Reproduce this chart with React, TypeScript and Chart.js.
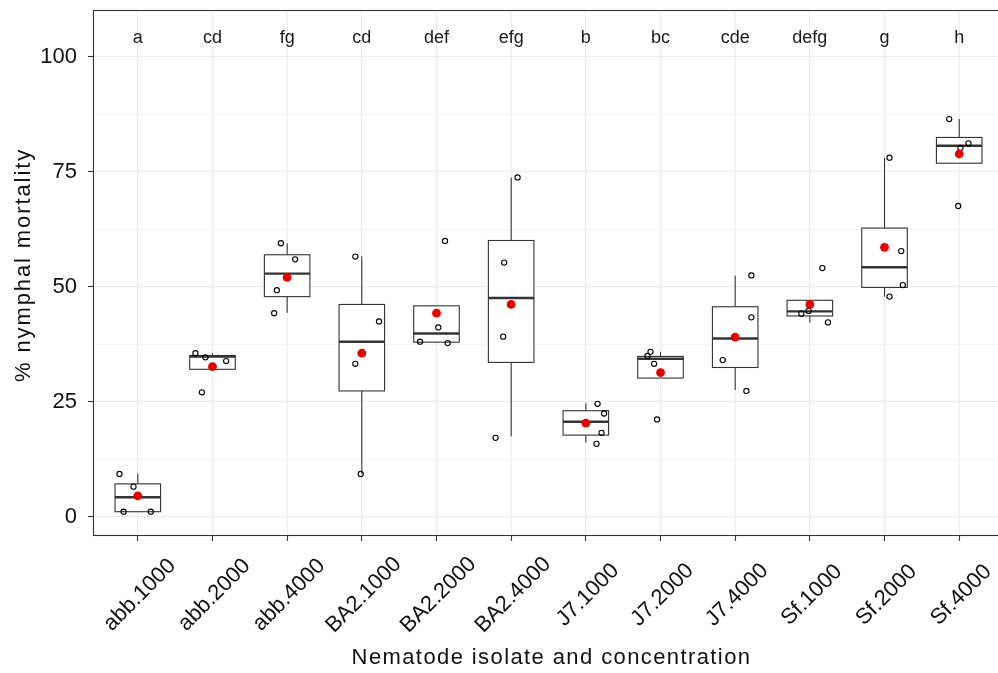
import React, { useEffect, useRef } from 'react';
import { Chart, registerables } from 'chart.js';

Chart.register(...registerables);

// ---------- data ----------
const categories = [
  'abb.1000', 'abb.2000', 'abb.4000',
  'BA2.1000', 'BA2.2000', 'BA2.4000',
  'J7.1000', 'J7.2000', 'J7.4000',
  'Sf.1000', 'Sf.2000', 'Sf.4000',
];
const groupLetters = ['a', 'cd', 'fg', 'cd', 'def', 'efg', 'b', 'bc', 'cde', 'defg', 'g', 'h'];

const whiskerLow = [1.15, 32.1, 44.4, 9.35, 37.8, 17.5, 16.2, 30.2, 27.6, 42.3, 47.9, 76.9];
const boxQ1 = [1.15, 32.1, 47.9, 27.4, 38.0, 33.6, 17.8, 30.2, 32.5, 43.7, 49.9, 76.9];
const boxMedian = [4.3, 34.85, 52.9, 38.1, 39.9, 47.6, 20.7, 34.4, 38.8, 44.7, 54.3, 80.7];
const boxQ3 = [7.2, 35.1, 57.0, 46.2, 45.9, 60.1, 23.1, 34.9, 45.7, 47.1, 62.8, 82.5];
const whiskerHigh = [9.4, 35.6, 59.5, 56.6, 45.9, 73.8, 24.7, 35.9, 52.5, 47.1, 78.1, 86.5];
const groupMeans = [4.6, 32.7, 52.1, 35.6, 44.3, 46.2, 20.4, 31.4, 39.1, 46.2, 58.6, 78.9];

const pointValues = [
  [9.35, 6.6, 1.15, 1.15],
  [35.6, 34.7, 33.9, 27.1],
  [59.5, 56.0, 49.3, 44.3],
  [56.6, 42.5, 33.3, 9.35],
  [60.0, 41.2, 38.1, 37.8],
  [73.8, 55.3, 39.2, 17.2],
  [24.6, 22.5, 18.3, 15.9],
  [35.9, 35.0, 33.3, 21.2],
  [52.5, 43.4, 34.1, 27.4],
  [54.1, 42.3, 44.8, 44.2],
  [78.1, 57.8, 50.4, 47.9],
  [86.5, 81.2, 67.6, 80.2],
];
// horizontal jitter of each point, in category units
const pointJitter = [
  [-0.245, -0.058, -0.19, 0.174],
  [-0.228, -0.094, 0.183, -0.142],
  [-0.084, 0.107, -0.138, -0.174],
  [-0.087, 0.23, -0.087, -0.015],
  [0.114, 0.024, -0.22, 0.15],
  [0.086, -0.094, -0.107, -0.209],
  [0.157, 0.245, 0.21, 0.143],
  [-0.134, -0.174, -0.086, -0.046],
  [0.217, 0.217, -0.167, 0.15],
  [0.167, 0.242, -0.016, -0.114],
  [0.067, 0.224, 0.245, 0.067],
  [-0.134, 0.124, -0.013, 0.017],
];

const yMajorTicks = [0, 25, 50, 75, 100];
const yMinorTicks = [12.5, 37.5, 62.5, 87.5];
const letterValue = 103;

const xTitle = 'Nematode isolate and concentration';
const yTitle = '% nymphal mortality';

// ---------- style ----------
const FONT = "'Liberation Sans', Arial, sans-serif";
const DARK = '#333333';
const BOX_HALF = 0.305;

const line = (ctx: CanvasRenderingContext2D, x1: number, y1: number, x2: number, y2: number) => {
  ctx.beginPath();
  ctx.moveTo(x1, y1);
  ctx.lineTo(x2, y2);
  ctx.stroke();
};

const boxPlugin = {
  id: 'boxplots',
  beforeDatasetsDraw(chart: any) {
    const { ctx, chartArea } = chart;
    const xs = chart.scales.x;
    const ys = chart.scales.y;
    ctx.save();
    ctx.beginPath();
    ctx.rect(chartArea.left, chartArea.top, chartArea.right - chartArea.left, chartArea.bottom - chartArea.top);
    ctx.clip();
    categories.forEach((_, i) => {
      const cx = xs.getPixelForValue(i);
      const l = xs.getPixelForValue(i - BOX_HALF);
      const r = xs.getPixelForValue(i + BOX_HALF);
      const pLo = ys.getPixelForValue(whiskerLow[i]);
      const pQ1 = ys.getPixelForValue(boxQ1[i]);
      const pMed = ys.getPixelForValue(boxMedian[i]);
      const pQ3 = ys.getPixelForValue(boxQ3[i]);
      const pHi = ys.getPixelForValue(whiskerHigh[i]);
      ctx.strokeStyle = DARK;
      ctx.lineWidth = 1.1;
      if (pHi < pQ3) line(ctx, cx, pHi, cx, pQ3);
      if (pLo > pQ1) line(ctx, cx, pQ1, cx, pLo);
      ctx.fillStyle = '#ffffff';
      ctx.fillRect(l, pQ3, r - l, pQ1 - pQ3);
      ctx.strokeRect(l, pQ3, r - l, pQ1 - pQ3);
      ctx.lineWidth = 2.4;
      line(ctx, l, pMed, r, pMed);
    });
    ctx.fillStyle = '#1a1a1a';
    ctx.font = `18px ${FONT}`;
    ctx.textAlign = 'center';
    ctx.textBaseline = 'alphabetic';
    groupLetters.forEach((t, i) => {
      ctx.fillText(t, xs.getPixelForValue(i), ys.getPixelForValue(letterValue));
    });
    ctx.restore();
  },
  afterDraw(chart: any) {
    const { ctx, chartArea } = chart;
    const xs = chart.scales.x;
    ctx.save();
    ctx.strokeStyle = DARK;
    ctx.lineWidth = 1.1;
    ctx.strokeRect(chartArea.left + 0.5, chartArea.top + 0.5, chartArea.right - chartArea.left - 1, chartArea.bottom - chartArea.top - 1);
    // rotated category labels
    ctx.fillStyle = '#111111';
    ctx.font = `22px ${FONT}`;
    ctx.textAlign = 'center';
    ctx.textBaseline = 'middle';
    categories.forEach((t, i) => {
      ctx.save();
      ctx.translate(xs.getPixelForValue(i) + 2, 595);
      ctx.rotate(-Math.PI / 4);
      ctx.fillText(t, 0, 0);
      ctx.restore();
    });
    // axis titles
    (ctx as any).letterSpacing = '1.4px';
    ctx.fillText(xTitle, (chartArea.left + chartArea.right) / 2 + 3, 658);
    (ctx as any).letterSpacing = '1.9px';
    ctx.save();
    ctx.translate(24, (chartArea.top + chartArea.bottom) / 2 - 8);
    ctx.rotate(-Math.PI / 2);
    ctx.fillText(yTitle, 0, 0);
    ctx.restore();
    ctx.restore();
  },
};

export default function App() {
  const ref = useRef<HTMLCanvasElement | null>(null);
  useEffect(() => {
    if (!ref.current) return;
    const jitterData: { x: number; y: number }[] = [];
    pointValues.forEach((vals, i) => {
      vals.forEach((v, j) => jitterData.push({ x: i + pointJitter[i][j], y: v }));
    });
    const meanData = groupMeans.map((m, i) => ({ x: i, y: m }));
    const yTicks = [...yMajorTicks, ...yMinorTicks].sort((a, b) => a - b);

    const chart = new Chart(ref.current, {
      type: 'scatter',
      data: {
        datasets: [
          {
            label: 'mean',
            data: meanData,
            pointRadius: 4.4,
            pointBackgroundColor: '#e60000',
            pointBorderColor: '#e60000',
            pointBorderWidth: 0,
          },
          {
            label: 'observations',
            data: jitterData,
            pointRadius: 2.6,
            pointBackgroundColor: 'rgba(0,0,0,0)',
            pointBorderColor: '#000000',
            pointBorderWidth: 1.1,
          },
        ],
      },
      options: {
        animation: false,
        responsive: false,
        devicePixelRatio: 1,
        events: [],
        layout: { padding: { top: 10, right: 6, left: 0, bottom: 0 } },
        plugins: { legend: { display: false }, tooltip: { enabled: false } },
        scales: {
          x: {
            type: 'linear',
            min: -0.6,
            max: 11.6,
            afterBuildTicks: (s: any) => {
              s.ticks = categories.map((_, i) => ({ value: i }));
            },
            afterFit: (s: any) => {
              s.height = 137;
              s.paddingLeft = 0;
              s.paddingRight = 0;
            },
            ticks: { display: false },
            border: { display: false },
            grid: {
              color: '#EBEBEB',
              lineWidth: 1,
              drawTicks: true,
              tickLength: 5,
              tickColor: DARK,
              tickWidth: 1.1,
            },
          },
          y: {
            type: 'linear',
            min: -4.13,
            max: 110.2,
            afterBuildTicks: (s: any) => {
              s.ticks = yTicks.map((v) => ({ value: v }));
            },
            afterFit: (s: any) => {
              s.width = 93;
              s.paddingTop = 0;
              s.paddingBottom = 0;
            },
            border: { display: false },
            grid: {
              color: (c: any) => (yMajorTicks.includes(c.tick?.value) ? '#EBEBEB' : '#F3F3F3'),
              lineWidth: 1,
              drawTicks: true,
              tickLength: 5,
              tickColor: (c: any) => (yMajorTicks.includes(c.tick?.value) ? DARK : 'rgba(0,0,0,0)'),
              tickWidth: 1.1,
            },
            ticks: {
              padding: 11,
              color: '#111111',
              font: { family: FONT, size: 22 },
              callback: (v: any) => (yMajorTicks.includes(Number(v)) ? String(v) : ''),
            },
          },
        },
      },
      plugins: [boxPlugin],
    });
    return () => chart.destroy();
  }, []);

  return (
    <div style={{ position: 'fixed', left: 0, top: 0, width: 998, height: 673, overflow: 'hidden', background: '#fff' }}>
      <canvas ref={ref} width={1010} height={673} style={{ display: 'block' }} />
    </div>
  );
}
